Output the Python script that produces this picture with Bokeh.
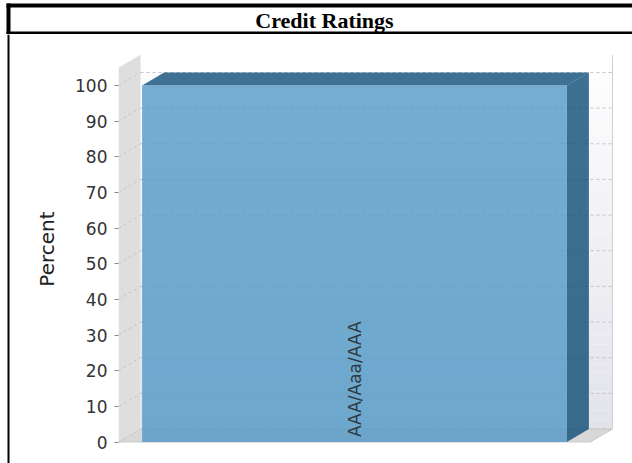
import math
from bokeh.plotting import figure
from bokeh.layouts import column, row
from bokeh.models import ColumnDataSource, Range1d, FixedTicker
from bokeh.core.properties import value
from bokeh.embed import file_html
from bokeh.resources import INLINE

# ---- data ----
CATEGORIES = ["AAA/Aaa/AAA"]
PERCENT = [100]
Y_TICKS = [0, 10, 20, 30, 40, 50, 60, 70, 80, 90, 100]
Y_AXIS_MAX = 105
TITLE = "Credit Ratings"
Y_LABEL = "Percent"

# ---- layout (page pixels) ----
W, H = 632, 463
TITLE_H = 34
LINE_W = 10
FRAME_L = 118
PX_ZERO, PX_HUNDRED = 441.5, 85.0
PX_CAT_L, PX_CAT_R = 118, 590
DEPTH_X, DEPTH_Y = 22, 13

ppu_y = (PX_ZERO - PX_HUNDRED) / 100.0
ppu_x = (PX_CAT_R - PX_CAT_L) / len(CATEGORIES)
y_start = -(H - PX_ZERO) / ppu_y
y_end = (PX_ZERO - TITLE_H) / ppu_y
x_end = (W - FRAME_L) / ppu_x
dx = DEPTH_X / ppu_x
dy = DEPTH_Y / ppu_y
n = len(CATEGORIES)


def bare(fig):
    fig.grid.visible = False
    fig.outline_line_color = None
    fig.background_fill_color = "white"
    fig.border_fill_color = "white"


# ---- title strip ----
tf = figure(width=W, height=TITLE_H, output_backend="svg", toolbar_location=None,
            x_range=Range1d(0, W), y_range=Range1d(TITLE_H, 0),
            x_axis_location=None, y_axis_location=None, title=None,
            min_border=0)
bare(tf)
tf.quad(left=[6, 6, 6], right=[W + 10, 10, W + 10], top=[3, 3, 31], bottom=[7, TITLE_H, TITLE_H],
        fill_color="black", line_color=None)
tf.text(x=[324], y=[19.5], text=[TITLE], text_align="center", text_baseline="middle",
        text_font=value("Liberation Serif"), text_font_style="bold",
        text_font_size="22px", text_color="black")

# ---- left rule ----
lf = figure(width=LINE_W, height=H - TITLE_H, output_backend="svg", toolbar_location=None,
            x_range=Range1d(0, LINE_W), y_range=Range1d(0, 1),
            x_axis_location=None, y_axis_location=None, title=None, min_border=0)
bare(lf)
lf.quad(left=[7], right=[9], bottom=[0], top=[1], fill_color="black", line_color=None)

# ---- main chart ----
p = figure(width=W - LINE_W, height=H - TITLE_H, output_backend="svg", toolbar_location=None,
           x_range=Range1d(0, x_end), y_range=Range1d(y_start, y_end),
           x_axis_location=None, min_border_left=FRAME_L - LINE_W, min_border_top=0,
           min_border_right=0, min_border_bottom=0, title=None)
bare(p)

# back wall gradient
steps = 40
top_c = (255, 255, 255)
bot_c = (226, 226, 234)
bw_bottom, bw_top, bw_col = [], [], []
for i in range(steps):
    f = (i + 0.5) / steps
    bw_bottom.append(dy + Y_AXIS_MAX * i / steps)
    bw_top.append(dy + Y_AXIS_MAX * (i + 1) / steps)
    c = tuple(int(round(bot_c[k] + (top_c[k] - bot_c[k]) * f)) for k in range(3))
    bw_col.append("#%02x%02x%02x" % c)
p.quad(left=[dx] * steps, right=[n + dx] * steps, bottom=bw_bottom, top=bw_top,
       fill_color=bw_col, line_color=None)
p.line(x=[n + dx, n + dx], y=[dy, Y_AXIS_MAX + dy], line_color="#d0d0d8", line_width=1)

# floor
p.patch(x=[0, n, n + dx, dx], y=[0, 0, dy, dy], fill_color="#d8d8d8", line_color="#cccccc", line_width=1)
# left wall
p.patch(x=[0, 0, dx, dx], y=[0, Y_AXIS_MAX, Y_AXIS_MAX + dy, dy], fill_color="#dedede", line_color=None)

# gridlines
for t in Y_TICKS:
    p.line(x=[dx, n + dx], y=[t + dy, t + dy], line_color="#c4c4c4", line_dash="3 3", line_width=1)
    p.line(x=[0, dx], y=[t, t + dy], line_color="#c4c4c4", line_dash="3 3", line_width=1)

# bars
src = ColumnDataSource(dict(
    x=[i + 0.5 for i in range(n)],
    left=[i + 0.05 for i in range(n)],
    right=[i + 0.95 for i in range(n)],
    top=PERCENT,
    bottom=[0] * n,
    text=CATEGORIES,
))
alpha = 0.8
for i in range(n):
    l, r, v = i + 0.05, i + 0.95, PERCENT[i]
    p.patch(x=[r, r + dx, r + dx, r], y=[0, dy, v + dy, v], fill_color="#0e4c76",
            fill_alpha=alpha, line_color=None)
    p.patch(x=[l, r, r + dx, l + dx], y=[v, v, v + dy, v + dy], fill_color="#0f4e79",
            fill_alpha=alpha, line_color=None)
p.quad(left="left", right="right", bottom="bottom", top="top", source=src,
       fill_color="#5198c6", fill_alpha=alpha, line_color=None)

p.text(x="x", y="bottom", text="text", source=src, angle=math.pi / 2,
       text_align="left", text_baseline="middle", y_offset=-5,
       text_font=value("DejaVu Sans"), text_font_size="17px", text_color="#2e3a44")

# axis
ax = p.yaxis[0]
ax.ticker = FixedTicker(ticks=Y_TICKS)
ax.axis_line_color = None
ax.major_tick_line_color = "#888888"
ax.major_tick_out = 4
ax.major_tick_in = 0
ax.minor_tick_line_color = None
ax.major_label_text_font = "DejaVu Sans"
ax.major_label_text_font_size = "17px"
ax.major_label_text_color = "#333333"
ax.major_label_standoff = 7
ax.axis_label = Y_LABEL
ax.axis_label_text_font = "DejaVu Sans"
ax.axis_label_text_font_size = "20px"
ax.axis_label_text_font_style = "normal"
ax.axis_label_text_color = "#222222"
ax.axis_label_standoff = 13

layout = column(tf, row(lf, p))
open("out.html", "w").write(file_html(layout, INLINE))
